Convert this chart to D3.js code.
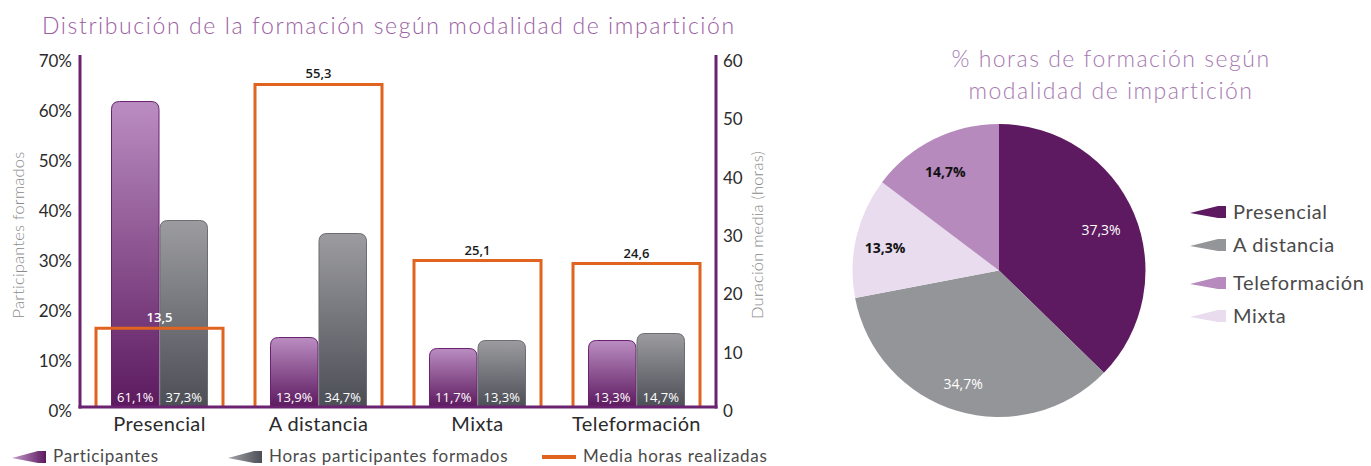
<!DOCTYPE html>
<html lang="es">
<head>
<meta charset="utf-8">
<script src="https://cdn.jsdelivr.net/npm/d3@7"></script>
<style>
  html, body { margin: 0; padding: 0; background: #fff; }
  svg { display: block; }
  .geo { font-family: Lato, "Noto Sans", sans-serif; }
  .num { font-family: "Open Sans", "Liberation Sans", sans-serif; }
</style>
</head>
<body>
<svg id="chart" width="1371" height="466"></svg>
<script>
// Training by delivery mode
const categories = ["Presencial", "A distancia", "Mixta", "Teleformación"];
const participantes = [61.1, 13.9, 11.7, 13.3];         // % of trained participants
const horasParticipantes = [37.3, 34.7, 13.3, 14.7];    // % of training hours
const mediaHoras = [13.5, 55.3, 25.1, 24.6];            // average hours per course
const leftTicks = [0, 10, 20, 30, 40, 50, 60, 70];
const rightTicks = [0, 10, 20, 30, 40, 50, 60];

// Pie: share of training hours by mode (clockwise from 12 o'clock)
const pieLabels = ["Presencial", "A distancia", "Mixta", "Teleformación"];
const pieValues = [37.3, 34.7, 13.3, 14.7];
const legendOrder = ["Presencial", "A distancia", "Teleformación", "Mixta"];

const fmt = v => v.toFixed(1).replace(".", ",");

const svg = d3.select("#chart");
const defs = svg.append("defs");

function vGrad(id, top, bottom) {
  const g = defs.append("linearGradient").attr("id", id)
    .attr("x1", 0).attr("y1", 0).attr("x2", 0).attr("y2", 1);
  g.append("stop").attr("offset", "0%").attr("stop-color", top);
  g.append("stop").attr("offset", "100%").attr("stop-color", bottom);
}
function hGrad(id, left, right) {
  const g = defs.append("linearGradient").attr("id", id)
    .attr("x1", 0).attr("y1", 0).attr("x2", 1).attr("y2", 0);
  g.append("stop").attr("offset", "0%").attr("stop-color", left);
  g.append("stop").attr("offset", "100%").attr("stop-color", right);
}
vGrad("gPurple", "#ba8dc1", "#5c195f");
vGrad("gGray", "#9c9ca0", "#4c4e56");
hGrad("gPurpleH", "#c49ccb", "#5c195f");
hGrad("gGrayH", "#a5a5a9", "#4c4e56");

// ---------- Combo chart ----------
const plot = { left: 80, right: 716, top: 57, bottom: 407 };
const axisColor = "#6b2270";
const orange = "#e0631f";

const x = d3.scaleBand().domain(categories).range([plot.left, plot.right]).padding(0);
const yL = d3.scaleLinear().domain([0, 70]).range([plot.bottom, plot.top]);
const yR = d3.scaleLinear().domain([0, 60]).range([plot.bottom, plot.top]);
const pairWidth = 96;
const sub = d3.scaleBand().domain(["p", "h"]).range([-pairWidth / 2, pairWidth / 2]).paddingInner(0.02);
const boxWidth = 127;

svg.append("text").attr("class", "geo")
  .attr("x", 42).attr("y", 34)
  .attr("font-size", 23).attr("font-weight", 300)
  .attr("fill", "#9a5ea3").attr("letter-spacing", 1.6)
  .text("Distribución de la formación según modalidad de impartición");

// rounded-top bar
function barPath(x0, w, yTop, yBase, r) {
  r = Math.min(r, (yBase - yTop), w / 2);
  return `M${x0},${yBase} L${x0},${yTop + r} Q${x0},${yTop} ${x0 + r},${yTop} ` +
         `L${x0 + w - r},${yTop} Q${x0 + w},${yTop} ${x0 + w},${yTop + r} L${x0 + w},${yBase} Z`;
}

const series = [
  { key: "p", values: participantes, fill: "url(#gPurple)", stroke: "#6a2270" },
  { key: "h", values: horasParticipantes, fill: "url(#gGray)", stroke: "#6c6d72" }
];

series.forEach(s => {
  const g = svg.append("g");
  categories.forEach((c, i) => {
    const cx = x(c) + x.bandwidth() / 2;
    const bx = cx + sub(s.key);
    const w = sub.bandwidth();
    g.append("path")
      .attr("d", barPath(bx, w, yL(s.values[i]), yL(0), 8))
      .attr("fill", s.fill).attr("stroke", s.stroke).attr("stroke-width", 1);
    g.append("text").attr("class", "num")
      .attr("x", bx + w / 2).attr("y", yL(0) - 5)
      .attr("text-anchor", "middle").attr("font-size", 13)
      .attr("fill", "#fff")
      .text(fmt(s.values[i]) + "%");
  });
});

// average-hours boxes on the right axis
const boxes = svg.append("g");
categories.forEach((c, i) => {
  const cx = x(c) + x.bandwidth() / 2;
  const x0 = cx - boxWidth / 2, x1 = cx + boxWidth / 2;
  const yt = yR(mediaHoras[i]);
  boxes.append("path")
    .attr("d", `M${x0},${yR(0)} L${x0},${yt} L${x1},${yt} L${x1},${yR(0)}`)
    .attr("fill", "none").attr("stroke", orange).attr("stroke-width", 3);
  boxes.append("text").attr("class", "num")
    .attr("x", cx).attr("y", yt - 6)
    .attr("text-anchor", "middle").attr("font-size", 13).attr("font-weight", 600)
    .attr("fill", i === 0 ? "#fff" : "#1a1a1a")
    .text(fmt(mediaHoras[i]));
});

// axes
const axL = svg.append("g").attr("transform", `translate(${plot.left},0)`)
  .call(d3.axisLeft(yL).tickValues(leftTicks).tickSize(0).tickPadding(8).tickFormat(d => d + "%"));
const axR = svg.append("g").attr("transform", `translate(${plot.right},0)`)
  .call(d3.axisRight(yR).tickValues(rightTicks).tickSize(0).tickPadding(7));
const axB = svg.append("g").attr("transform", `translate(0,${plot.bottom})`)
  .call(d3.axisBottom(x).tickSize(0).tickPadding(6));
[axL, axR, axB].forEach(a => {
  a.select(".domain").remove();
  a.selectAll("text").attr("class", "geo").attr("fill", "#2b2b2b");
});
axL.selectAll("text").attr("font-size", 17).attr("dy", "0.55em");
axR.selectAll("text").attr("font-size", 17).attr("dy", "0.55em");
axB.selectAll("text").attr("font-size", 20).attr("letter-spacing", 0.4).attr("dy", "0.9em");

svg.append("line").attr("x1", plot.left).attr("x2", plot.left)
  .attr("y1", plot.top - 2).attr("y2", plot.bottom + 1.5)
  .attr("stroke", axisColor).attr("stroke-width", 3);
svg.append("line").attr("x1", plot.right).attr("x2", plot.right)
  .attr("y1", plot.top - 2).attr("y2", plot.bottom + 1.5)
  .attr("stroke", axisColor).attr("stroke-width", 3);
svg.append("line").attr("x1", plot.left - 1.5).attr("x2", plot.right + 1.5)
  .attr("y1", plot.bottom).attr("y2", plot.bottom)
  .attr("stroke", axisColor).attr("stroke-width", 3);

svg.append("text").attr("class", "geo")
  .attr("transform", `translate(24,${(plot.top + plot.bottom) / 2 + 3}) rotate(-90)`)
  .attr("text-anchor", "middle").attr("font-size", 16.5).attr("font-weight", 300)
  .attr("fill", "#8a8a8a").attr("letter-spacing", 0.2)
  .text("Participantes formados");
svg.append("text").attr("class", "geo")
  .attr("transform", `translate(763,${(plot.top + plot.bottom) / 2 + 3}) rotate(-90)`)
  .attr("text-anchor", "middle").attr("font-size", 16.5).attr("font-weight", 300)
  .attr("fill", "#8a8a8a").attr("letter-spacing", 0.2)
  .text("Duración media (horas)");

// wedge-shaped legend key
function wedge(x0, yc, w, h) {
  return `M${x0},${yc + 1} L${x0 + w - 8},${yc - h / 2} L${x0 + w},${yc - h / 2} ` +
         `L${x0 + w},${yc + h / 2} L${x0 + w - 8},${yc + h / 2} Z`;
}

const legendItems = [
  { label: "Participantes", x: 12, fill: "url(#gPurpleH)" },
  { label: "Horas participantes formados", x: 228, fill: "url(#gGrayH)" },
  { label: "Media horas realizadas", x: 542, line: true }
];
legendItems.forEach(it => {
  const yc = 456;
  if (it.line) {
    svg.append("line").attr("x1", it.x).attr("x2", it.x + 34)
      .attr("y1", yc + 1).attr("y2", yc + 1).attr("stroke", orange).attr("stroke-width", 4);
  } else {
    svg.append("path").attr("d", wedge(it.x, yc + 1, 34, 12)).attr("fill", it.fill);
  }
  svg.append("text").attr("class", "geo")
    .attr("x", it.x + 41).attr("y", yc).attr("dy", "0.38em")
    .attr("font-size", 17).attr("letter-spacing", 0.7).attr("fill", "#4a4a4a")
    .text(it.label);
});

// ---------- Pie chart ----------
const pieColors = d3.scaleOrdinal()
  .domain(["Presencial", "A distancia", "Mixta", "Teleformación"])
  .range(["#5e1a60", "#949599", "#e9dcee", "#b68abd"]);

const center = { x: 999, y: 270.5 };
const R = 146.5;
const pieData = pieLabels.map((l, i) => ({ label: l, value: pieValues[i] }));
const arcs = d3.pie().value(d => d.value).sort(null)(pieData);
const arc = d3.arc().innerRadius(0).outerRadius(R);
const labelArc = d3.arc().innerRadius(114).outerRadius(114);

[["% horas de formación según", 67], ["modalidad de impartición", 99]].forEach(([t, y]) => {
  svg.append("text").attr("class", "geo")
    .attr("x", 1111).attr("y", y).attr("text-anchor", "middle")
    .attr("font-size", 23).attr("font-weight", 300).attr("fill", "#a679b0")
    .attr("letter-spacing", 1.5)
    .text(t);
});

const pieG = svg.append("g").attr("transform", `translate(${center.x},${center.y})`);
pieG.selectAll("path").data(arcs).enter().append("path")
  .attr("d", arc).attr("fill", d => pieColors(d.data.label));

const darkText = new Set(["Mixta", "Teleformación"]);
pieG.selectAll("text").data(arcs).enter().append("text").attr("class", "num")
  .attr("transform", d => {
    const [cx, cy] = labelArc.centroid(d);
    return `translate(${cx - 3},${cy + 4})`;
  })
  .attr("text-anchor", "middle").attr("dy", "0.35em")
  .attr("font-size", 14)
  .attr("font-weight", d => darkText.has(d.data.label) ? 700 : 400)
  .attr("fill", d => darkText.has(d.data.label) ? "#111" : "#fff")
  .text(d => fmt(d.data.value) + "%");

const pieLegendY = [212, 245, 283, 316];
legendOrder.forEach((l, i) => {
  const yc = pieLegendY[i];
  svg.append("path").attr("d", wedge(1190, yc, 36, 12)).attr("fill", pieColors(l));
  svg.append("text").attr("class", "geo")
    .attr("x", 1233).attr("y", yc).attr("dy", "0.36em")
    .attr("font-size", 20).attr("letter-spacing", 0.6).attr("fill", "#4a4a4a")
    .text(l);
});
</script>
</body>
</html>
